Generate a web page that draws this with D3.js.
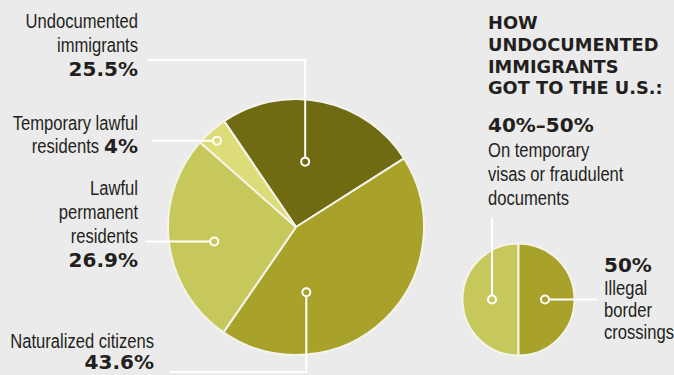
<!DOCTYPE html>
<html><head><meta charset="utf-8">
<script src="https://cdn.jsdelivr.net/npm/d3@7"></script>
<style>
html,body{margin:0;padding:0;background:#ebebeb;}
svg{display:block;}
.lab{font-family:"Liberation Sans",Arial,sans-serif;fill:#231f20;}
.big{font-family:"DejaVu Sans","Liberation Sans",sans-serif;font-weight:bold;fill:#231f20;}
</style></head>
<body>
<svg id="c" width="674" height="375"></svg>
<script>
// Main pie (clockwise order starting from Undocumented)
const categories = ["Undocumented immigrants","Naturalized citizens","Lawful permanent residents","Temporary lawful residents"];
const values = [25.5, 43.6, 26.9, 4];
const valueLabels = ["25.5%","43.6%","26.9%","4%"];
const colors = ["#706b12","#a9a22a","#c7c85c","#dcdd78"];

// Small pie: how undocumented immigrants got to the U.S.
const routeCategories = ["On temporary visas or fraudulent documents","Illegal border crossings"];
const routeValues = [50, 50];
const routeLabels = ["40%\u201350%","50%"];
const routeColors = ["#c7c85c","#a9a22a"];

const svg = d3.select("#c");
const deg = Math.PI/180;
const COND = 0.79, FS = 21;

// ---- main pie
const cx = 296, cy = 227, R = 128;
const start = -34.2*deg;
const pie = d3.pie().sort(null).value(d=>d).startAngle(start).endAngle(start+2*Math.PI);
const arcs = pie(values);
const arc = d3.arc().innerRadius(0).outerRadius(R);
const g = svg.append("g").attr("transform",`translate(${cx},${cy})`);
g.selectAll("path").data(arcs).join("path")
  .attr("d",arc).attr("fill",(d,i)=>colors[i])
  .attr("stroke","#f4f4ec").attr("stroke-width",2).attr("stroke-linejoin","round");

// marker placement inside each slice (angle in degrees clockwise from top, radius)
const markerAngle = [8, 171, 260, -42.5];
const markerRad = [66, 66, 83, 117];
const markers = markerAngle.map((a,i)=>[cx+markerRad[i]*Math.sin(a*deg), cy-markerRad[i]*Math.cos(a*deg)]);
const L = svg.append("g").attr("fill","none").attr("stroke","#ffffff").attr("stroke-width",2);
L.append("path").attr("d",`M${markers[0][0]},${markers[0][1]-4} V60 H148`);
L.append("path").attr("d",`M${markers[1][0]},${markers[1][1]+4} V372 H170`);
L.append("path").attr("d",`M${markers[2][0]-4},${markers[2][1]} H145`);
L.append("path").attr("d",`M${markers[3][0]-4},${markers[3][1]} H152`);
svg.append("g").selectAll("circle").data(markers).join("circle")
  .attr("cx",d=>d[0]).attr("cy",d=>d[1]).attr("r",4)
  .attr("fill",(d,i)=>colors[i]).attr("stroke","#ffffff").attr("stroke-width",2);

// text helpers
function cond(x, y, t, anchor){
  return svg.append("text").attr("class","lab").attr("font-size",FS)
    .attr("text-anchor",anchor).attr("transform",`translate(${x},${y}) scale(${COND},1)`).text(t);
}
function condLines(x, ys, arr, anchor){ arr.forEach((t,i)=>cond(x, ys[i], t, anchor)); }
function bold(x, y, t, size, anchor){
  return svg.append("text").attr("class","big").attr("font-size",size)
    .attr("text-anchor",anchor).attr("x",x).attr("y",y).text(t);
}

// left labels
condLines(138,[28,52],["Undocumented","immigrants"],"end");
bold(138,76,valueLabels[0],20,"end");
condLines(138,[130],["Temporary lawful"],"end");
const b4 = bold(138,153,valueLabels[3],20,"end");
const w4 = b4.node().getComputedTextLength();
cond(138-w4-5,153,"residents","end");
condLines(138,[195,219,243],["Lawful","permanent","residents"],"end");
bold(138,267,valueLabels[2],20,"end");
condLines(154,[348],["Naturalized citizens"],"end");
bold(154,369,valueLabels[1],20,"end");

// ---- small pie
const sx = 518.5, sy = 299.5, r2 = 56;
const pie2 = d3.pie().sort(null).value(d=>d).startAngle(Math.PI).endAngle(3*Math.PI);
const arcs2 = pie2(routeValues);
const arc2 = d3.arc().innerRadius(0).outerRadius(r2);
const g2 = svg.append("g").attr("transform",`translate(${sx},${sy})`);
g2.selectAll("path").data(arcs2).join("path")
  .attr("d",arc2).attr("fill",(d,i)=>routeColors[i])
  .attr("stroke","#f4f4ec").attr("stroke-width",2);
const m2 = [[sx-26.5, sy],[sx+26.5, sy]];
const L2 = svg.append("g").attr("fill","none").attr("stroke","#ffffff").attr("stroke-width",2);
L2.append("path").attr("d",`M${m2[0][0]},${m2[0][1]-4} V217`);
L2.append("path").attr("d",`M${m2[1][0]+4},${m2[1][1]} H597`);
svg.append("g").selectAll("circle").data(m2).join("circle")
  .attr("cx",d=>d[0]).attr("cy",d=>d[1]).attr("r",4)
  .attr("fill",(d,i)=>routeColors[i]).attr("stroke","#ffffff").attr("stroke-width",2);

// right texts
["HOW","UNDOCUMENTED","IMMIGRANTS","GOT TO THE U.S.:"].forEach((t,i)=>bold(488,[29,51,73,94][i],t,17.8,"start"));
bold(488,132,routeLabels[0],20,"start");
condLines(488,[157,181,205],["On temporary","visas or fraudulent","documents"],"start");
bold(604,272,routeLabels[1],20,"start");
condLines(604,[295,317,339],["Illegal","border","crossings"],"start");
</script>
</body></html>
